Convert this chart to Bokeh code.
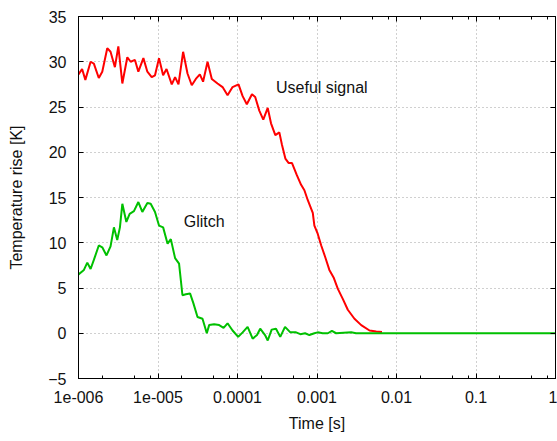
from bokeh.plotting import figure
from bokeh.models import LogAxis, LinearAxis, FixedTicker, CustomJSTickFormatter, Label
from bokeh.embed import file_html
from bokeh.resources import INLINE

# Useful signal: time [s] and temperature rise [K]
signal_t = [1.0e-6, 1.11e-6, 1.22e-6, 1.42e-6, 1.56e-6, 1.80e-6, 1.99e-6, 2.30e-6,
            2.53e-6, 2.87e-6, 3.17e-6, 3.56e-6, 4.11e-6, 4.53e-6, 5.13e-6, 5.66e-6,
            6.55e-6, 7.35e-6, 8.33e-6, 9.17e-6, 1.03e-5, 1.16e-5, 1.28e-5, 1.49e-5,
            1.64e-5, 1.81e-5, 2.07e-5, 2.35e-5, 2.66e-5, 2.99e-5, 3.36e-5, 3.69e-5,
            4.20e-5, 4.75e-5, 5.61e-5, 6.49e-5, 7.50e-5, 8.67e-5, 1.03e-4, 1.16e-4,
            1.31e-4, 1.52e-4, 1.67e-4, 1.88e-4, 2.11e-4, 2.40e-4, 2.64e-4, 2.99e-4,
            3.36e-4, 3.63e-4, 4.00e-4, 4.41e-4, 4.85e-4, 5.56e-4, 6.31e-4, 6.94e-4,
            7.66e-4, 8.85e-4, 9.27e-4, 1.02e-3, 1.13e-3, 1.27e-3, 1.43e-3, 1.63e-3,
            1.83e-3, 2.11e-3, 2.44e-3, 2.96e-3, 3.60e-3, 4.58e-3, 5.56e-3, 6.56e-3]
signal_k = [28.6, 29.2, 28.0, 30.0, 29.8, 28.2, 28.9, 31.5,
            31.1, 29.4, 31.7, 27.6, 30.5, 30.0, 30.2, 28.9,
            30.4, 28.9, 28.3, 28.5, 30.4, 28.5, 29.2, 27.5,
            28.3, 27.5, 31.1, 28.7, 27.4, 28.1, 28.6, 27.8,
            30.0, 28.1, 27.6, 27.2, 26.3, 27.2, 27.5, 26.2,
            25.3, 26.4, 26.1, 24.6, 23.6, 24.9, 23.2, 21.9,
            22.2, 20.8, 19.3, 18.8, 18.8, 17.5, 16.4, 15.8,
            14.7, 13.3, 11.9, 11.0, 9.7, 8.4, 7.0, 6.1,
            4.9, 3.8, 2.6, 1.6, 0.9, 0.3, 0.2, 0.15]

# Glitch: time [s] and temperature rise [K]
glitch_t = [1.0e-6, 1.17e-6, 1.29e-6, 1.42e-6, 1.56e-6, 1.80e-6, 1.99e-6, 2.25e-6,
            2.53e-6, 2.79e-6, 3.07e-6, 3.32e-6, 3.56e-6, 4.00e-6, 4.40e-6, 4.98e-6,
            5.66e-6, 6.35e-6, 7.35e-6, 8.09e-6, 9.17e-6, 1.03e-5, 1.16e-5, 1.32e-5,
            1.45e-5, 1.64e-5, 1.84e-5, 2.03e-5, 2.24e-5, 2.53e-5, 2.79e-5, 3.14e-5,
            3.63e-5, 4.11e-5, 4.40e-5, 5.08e-5, 5.88e-5, 6.68e-5, 7.50e-5, 8.67e-5,
            1.02e-4, 1.16e-4, 1.34e-4, 1.55e-4, 1.76e-4, 1.93e-4, 2.22e-4, 2.40e-4,
            2.69e-4, 3.05e-4, 3.45e-4, 3.96e-4, 4.62e-4, 5.45e-4, 6.17e-4, 7.08e-4,
            8.02e-4, 9.27e-4, 1.02e-3, 1.18e-3, 1.37e-3, 1.54e-3, 1.74e-3, 2.69e-3,
            3.1e-3, 1.0]
glitch_k = [6.5, 7.0, 7.8, 7.1, 8.1, 9.7, 9.5, 8.6,
            9.6, 11.7, 10.3, 11.7, 14.3, 12.3, 13.2, 13.5,
            14.5, 13.4, 14.4, 14.3, 13.4, 11.9, 11.7, 9.9,
            10.4, 8.3, 7.7, 4.2, 4.3, 4.4, 3.3, 1.8,
            1.6, 0.0, 0.9, 1.0, 0.9, 0.6, 1.1, 0.3,
            -0.4, 0.1, 0.7, -0.6, -0.2, 0.5, -0.2, -0.8,
            0.4, 0.5, -0.4, 0.7, 0.1, 0.1, -0.1, 0.0,
            -0.2, 0.0, 0.1, 0.0, 0.0, 0.25, 0.0, 0.1,
            0.0, 0.0]

x_ticks = [1e-6, 1e-5, 1e-4, 1e-3, 1e-2, 1e-1, 1.0]
x_tick_labels = ["1e-006", "1e-005", "0.0001", "0.001", "0.01", "0.1", "1"]
x_minor_steps = [2, 5, 8]
y_ticks = [-5, 0, 5, 10, 15, 20, 25, 30, 35]

FONT = "Liberation Sans"
FS = "16px"

p = figure(width=557, height=441, x_axis_type="log",
           x_range=(1e-6, 1.0), y_range=(-5, 35),
           output_backend="svg", toolbar_location=None,
           min_border_left=78, min_border_right=2,
           min_border_top=16, min_border_bottom=63)
p.background_fill_color = "white"
p.border_fill_color = "white"
p.outline_line_color = "black"
p.outline_line_width = 1

minor = [m * t for t in x_ticks[:-1] for m in x_minor_steps]
xticker = FixedTicker(ticks=x_ticks, minor_ticks=minor)
yticker = FixedTicker(ticks=y_ticks, minor_ticks=[])
xfmt = CustomJSTickFormatter(args=dict(tick_values=x_ticks, tick_labels=x_tick_labels), code="""
    for (let i = 0; i < tick_values.length; i++) {
        if (Math.abs(Math.log10(tick_values[i]) - Math.log10(tick)) < 1e-6) return tick_labels[i];
    }
    return "";
""")


def style_axis(ax, labelled):
    ax.axis_line_color = "black"
    ax.major_tick_in = 5
    ax.major_tick_out = 0
    ax.minor_tick_in = 3
    ax.minor_tick_out = 0
    ax.major_tick_line_color = "black"
    ax.minor_tick_line_color = "black"
    if labelled:
        ax.major_label_text_font = FONT
        ax.major_label_text_font_size = FS
        ax.major_label_text_color = "#111111"
        ax.axis_label_text_font = FONT
        ax.axis_label_text_font_size = FS
        ax.axis_label_text_font_style = "normal"
        ax.axis_label_text_color = "#111111"
    else:
        # mirror axis: ticks only, no labels drawn
        ax.major_label_text_color = None
        ax.major_label_text_font_size = "1px"
        ax.major_label_standoff = 0
        ax.axis_label_standoff = 0


xa = p.xaxis[0]
xa.ticker = xticker
xa.formatter = xfmt
xa.axis_label = "Time [s]"
style_axis(xa, True)
xa.major_label_standoff = 12
xa.axis_label_standoff = 9

ya = p.yaxis[0]
ya.ticker = yticker
ya.axis_label = "Temperature rise [K]"
style_axis(ya, True)
ya.major_label_standoff = 12
ya.axis_label_standoff = 20

top = LogAxis(ticker=xticker, formatter=xfmt)
style_axis(top, False)
p.add_layout(top, "above")
right = LinearAxis(ticker=yticker)
style_axis(right, False)
p.add_layout(right, "right")

for g in (p.xgrid[0], p.ygrid[0]):
    g.grid_line_color = "#a0a0a0"
    g.grid_line_dash = "1 3"
    g.grid_line_width = 1
p.xgrid[0].ticker = xticker
p.ygrid[0].ticker = yticker

p.line(signal_t, signal_k, line_color="#ff0000", line_width=2)
p.line(glitch_t, glitch_k, line_color="#00c000", line_width=2)

p.add_layout(Label(x=3.05e-4, y=27.1, text="Useful signal", text_font=FONT,
                   text_font_size=FS, text_color="#111111", text_baseline="middle"))
p.add_layout(Label(x=2.11e-5, y=12.3, text="Glitch", text_font=FONT,
                   text_font_size=FS, text_color="#111111", text_baseline="middle"))

open("out.html", "w").write(file_html(p, INLINE))
